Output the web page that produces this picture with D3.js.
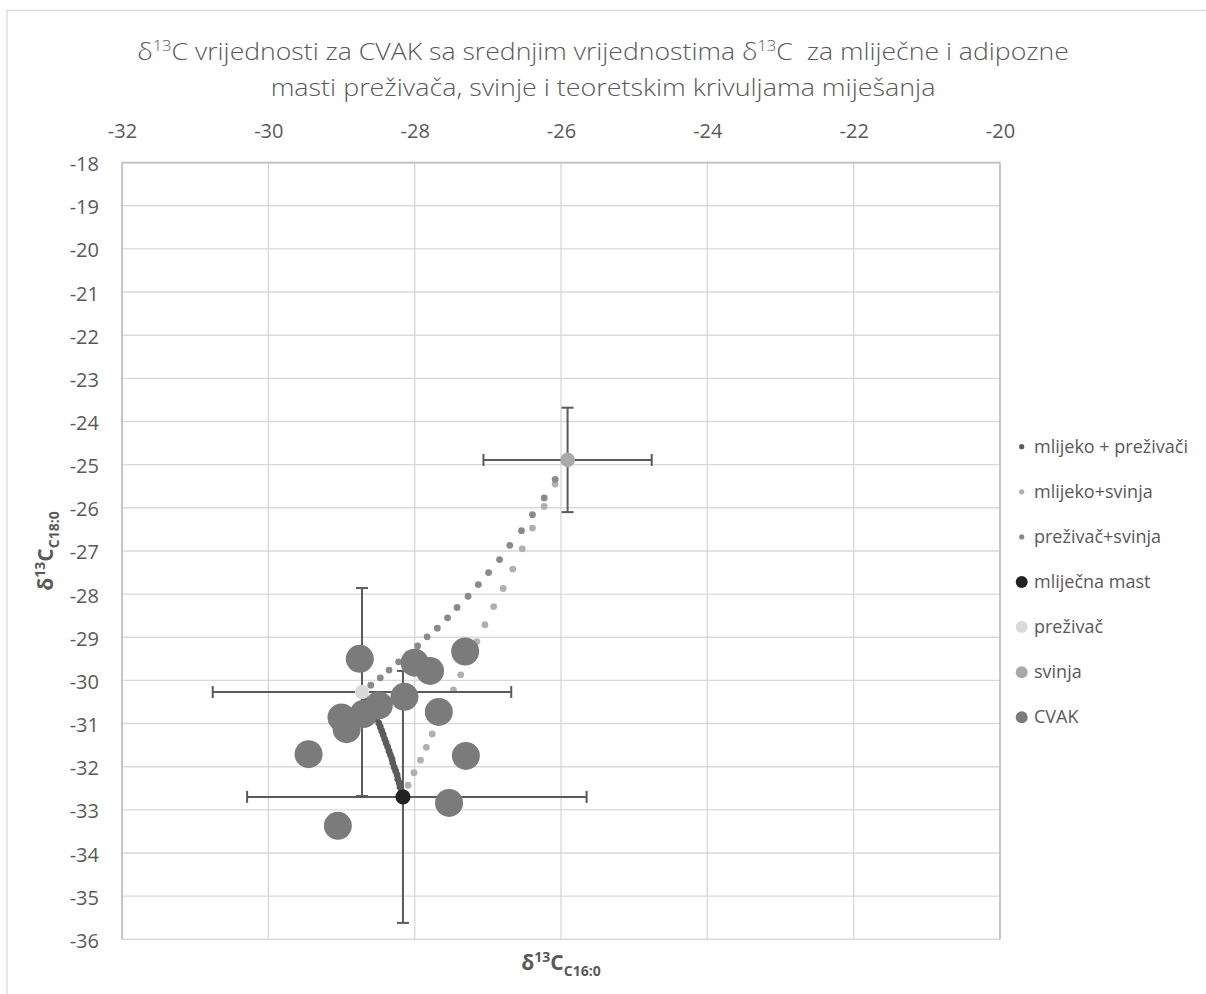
<!DOCTYPE html>
<html><head><meta charset="utf-8">
<script src="https://cdn.jsdelivr.net/npm/d3@7"></script>
<style>body{margin:0;background:#fff}svg{display:block}</style>
</head><body><svg id="c" width="1206" height="994"></svg>
<script>
// ---- data ----
const xTicks = [-32, -30, -28, -26, -24, -22, -20];
const yTicks = [-18, -19, -20, -21, -22, -23, -24, -25, -26, -27, -28, -29, -30, -31, -32, -33, -34, -35, -36];

// mixing curve: mlijeko + preživači
const mpX = [-28.17,-28.18,-28.20,-28.21,-28.23,-28.24,-28.26,-28.28,-28.30,-28.31,-28.33,-28.35,-28.37,-28.39,-28.41,-28.43,-28.45,-28.47,-28.49,-28.52,-28.54,-28.57,-28.60,-28.63,-28.66,-28.69];
const mpY = [-32.66,-32.56,-32.47,-32.38,-32.29,-32.19,-32.10,-32.01,-31.91,-31.82,-31.73,-31.64,-31.54,-31.45,-31.36,-31.26,-31.17,-31.08,-30.99,-30.89,-30.80,-30.71,-30.62,-30.55,-30.47,-30.38];
// mixing curve: mlijeko+svinja
const msX = [-28.09,-28.01,-27.92,-27.84,-27.76,-27.66,-27.57,-27.47,-27.37,-27.26,-27.15,-27.04,-26.92,-26.79,-26.66,-26.53,-26.39,-26.23,-26.08];
const msY = [-32.43,-32.14,-31.85,-31.55,-31.24,-30.89,-30.56,-30.22,-29.87,-29.48,-29.10,-28.71,-28.29,-27.87,-27.42,-26.95,-26.47,-25.97,-25.45];
// mixing curve: preživač+svinja
const psX = [-28.60,-28.47,-28.35,-28.22,-28.09,-27.96,-27.83,-27.69,-27.55,-27.42,-27.27,-27.13,-26.99,-26.84,-26.70,-26.54,-26.39,-26.23,-26.08];
const psY = [-30.11,-29.94,-29.76,-29.57,-29.39,-29.20,-28.99,-28.79,-28.55,-28.31,-28.05,-27.78,-27.50,-27.20,-26.87,-26.53,-26.16,-25.77,-25.34];
// reference means with error bars: [x, y, xErrMinus, xErrPlus, yErr]
const milkFat = [-28.16, -32.70, 2.13, 2.51, 2.92];
const ruminant = [-28.72, -30.27, 2.04, 2.04, 2.41];
const pig = [-25.91, -24.89, 1.15, 1.15, 1.21];
// CVAK samples
const cvakX = [-28.75,-28.00,-27.79,-27.31,-28.14,-28.49,-28.70,-29.00,-28.93,-27.67,-29.45,-27.30,-27.53,-29.05];
const cvakY = [-29.50,-29.59,-29.78,-29.33,-30.38,-30.58,-30.78,-30.86,-31.13,-30.73,-31.71,-31.75,-32.84,-33.37];

const legendNames = ["mlijeko + preživači", "mlijeko+svinja", "preživač+svinja", "mliječna mast", "preživač", "svinja", "CVAK"];

// ---- drawing ----
const svg = d3.select("#c");
const FONT = "'Open Sans', 'Noto Sans', sans-serif";
const TXT = "#595959";
const x = d3.scaleLinear().domain([-32, -20]).range([122, 1000]);
const y = d3.scaleLinear().domain([-18, -36]).range([162.6, 939.3]);

// chart outer border (left + top visible)
svg.append("rect").attr("x", 7).attr("y", 10.5).attr("width", 1300).attr("height", 1100)
  .attr("fill", "none").attr("stroke", "#d9d9d9").attr("stroke-width", 1.3);

// gridlines
const grid = svg.append("g");
grid.selectAll("line.v").data(xTicks).join("line")
  .attr("x1", d => x(d)).attr("x2", d => x(d)).attr("y1", y(-18)).attr("y2", y(-36))
  .attr("stroke", "#d9d9d9").attr("stroke-width", 1.4);
grid.selectAll("line.h").data(yTicks).join("line")
  .attr("y1", d => y(d)).attr("y2", d => y(d)).attr("x1", x(-32)).attr("x2", x(-20))
  .attr("stroke", "#d9d9d9").attr("stroke-width", 1.4);
// plot border lines (axes)
const bc = "#bfbfbf";
svg.append("line").attr("x1", x(-32)).attr("x2", x(-20)).attr("y1", y(-18)).attr("y2", y(-18)).attr("stroke", bc).attr("stroke-width", 1.6);
svg.append("line").attr("x1", x(-32)).attr("x2", x(-32)).attr("y1", y(-18)).attr("y2", y(-36)).attr("stroke", bc).attr("stroke-width", 1.6);
svg.append("line").attr("x1", x(-20)).attr("x2", x(-20)).attr("y1", y(-18)).attr("y2", y(-36)).attr("stroke", bc).attr("stroke-width", 1.6);

// axes labels
const ax = svg.append("g").attr("transform", `translate(0,${y(-18)})`)
  .call(d3.axisTop(x).tickValues(xTicks).tickSize(0).tickPadding(24.3).tickFormat(d3.format("d")));
const ay = svg.append("g").attr("transform", `translate(${x(-32)},0)`)
  .call(d3.axisLeft(y).tickValues(yTicks).tickSize(0).tickPadding(23).tickFormat(d3.format("d")));
[ax, ay].forEach(g => {
  g.select(".domain").remove();
  g.selectAll("text").attr("font-family", FONT).attr("font-size", 20).attr("fill", TXT)
    .text(d => String(d));
});
ay.selectAll("text").attr("dy", "0.4em");

// mixing curves
function dots(xs, ys, color, r) {
  svg.append("g").selectAll("circle").data(xs.map((v, i) => [v, ys[i]])).join("circle")
    .attr("cx", d => x(d[0])).attr("cy", d => y(d[1])).attr("r", r).attr("fill", color);
}
const cMP = "#5b5b5b", cMS = "#b0b0b0", cPS = "#8a8a8a", cMilk = "#222222", cRum = "#dadada", cPig = "#a9a9a9", cCvak = "#7b7b7b";
dots(mpX, mpY, cMP, 3.4);
dots(msX, msY, cMS, 3.4);
dots(psX, psY, cPS, 3.4);

// error bars
const eb = svg.append("g").attr("stroke", "#5a5a5a").attr("stroke-width", 2).attr("fill", "none");
[milkFat, ruminant, pig].forEach(p => {
  const [cx, cy, exm, exp, ey] = p, cap = 6;
  eb.append("line").attr("x1", x(cx - exm)).attr("x2", x(cx + exp)).attr("y1", y(cy)).attr("y2", y(cy));
  eb.append("line").attr("x1", x(cx - exm)).attr("x2", x(cx - exm)).attr("y1", y(cy) - cap).attr("y2", y(cy) + cap);
  eb.append("line").attr("x1", x(cx + exp)).attr("x2", x(cx + exp)).attr("y1", y(cy) - cap).attr("y2", y(cy) + cap);
  eb.append("line").attr("x1", x(cx)).attr("x2", x(cx)).attr("y1", y(cy - ey)).attr("y2", y(cy + ey));
  eb.append("line").attr("x1", x(cx) - cap).attr("x2", x(cx) + cap).attr("y1", y(cy - ey)).attr("y2", y(cy - ey));
  eb.append("line").attr("x1", x(cx) - cap).attr("x2", x(cx) + cap).attr("y1", y(cy + ey)).attr("y2", y(cy + ey));
});
svg.append("circle").attr("cx", x(milkFat[0])).attr("cy", y(milkFat[1])).attr("r", 7.5).attr("fill", cMilk);
svg.append("circle").attr("cx", x(ruminant[0])).attr("cy", y(ruminant[1])).attr("r", 7.2).attr("fill", cRum);
svg.append("circle").attr("cx", x(pig[0])).attr("cy", y(pig[1])).attr("r", 7.3).attr("fill", cPig);

// CVAK
dots(cvakX, cvakY, cCvak, 14);

// legend
const legColors = [cMP, cMS, cPS, cMilk, cRum, cPig, cCvak];
const legR = [2.6, 2.6, 2.6, 6, 6, 6, 6];
const lg = svg.append("g");
legendNames.forEach((n, i) => {
  const ly = 446.7 + i * 45.1;
  lg.append("circle").attr("cx", 1021.7).attr("cy", ly).attr("r", legR[i]).attr("fill", legColors[i]);
  lg.append("text").attr("x", 1034).attr("y", ly + 6).attr("font-family", FONT).attr("font-size", 18)
    .attr("fill", TXT).text(n);
});

// title
function titleLine(parts, cy, targetW) {
  const t = svg.append("text").attr("font-family", FONT).attr("font-size", 24).attr("fill", TXT)
    .attr("font-weight", 300).attr("text-anchor", "middle");
  parts.forEach(p => {
    if (p.sup) t.append("tspan").attr("font-size", 15).attr("dy", -9).text(p.t);
    else t.append("tspan").attr("dy", p.after ? 9 : 0).text(p.t);
  });
  const w = t.node().getBBox().width;
  const s = targetW / w;
  t.attr("transform", `translate(603,${cy}) scale(${s},1)`);
}
titleLine([{t: "δ"}, {t: "13", sup: true}, {t: "C vrijednosti za CVAK sa srednjim vrijednostima δ", after: true},
  {t: "13", sup: true}, {t: "C\u00a0 za mliječne i adipozne", after: true}], 60, 932);
titleLine([{t: "masti preživača, svinje i teoretskim krivuljama miješanja"}], 96, 665);

// axis titles
function axisTitle(g, sub) {
  const t = g.append("text").attr("font-family", FONT).attr("font-weight", "bold").attr("fill", TXT)
    .attr("text-anchor", "middle");
  t.append("tspan").attr("font-size", 21).text("δ");
  t.append("tspan").attr("font-size", 14).attr("dy", -8).text("13");
  t.append("tspan").attr("font-size", 21).attr("dy", 8).text("C");
  t.append("tspan").attr("font-size", 14).attr("dy", 6).text(sub);
  return t;
}
axisTitle(svg.append("g").attr("transform", "translate(561,970)"), "C16:0");
axisTitle(svg.append("g").attr("transform", "translate(53,551) rotate(-90)"), "C18:0");
</script></body></html>
